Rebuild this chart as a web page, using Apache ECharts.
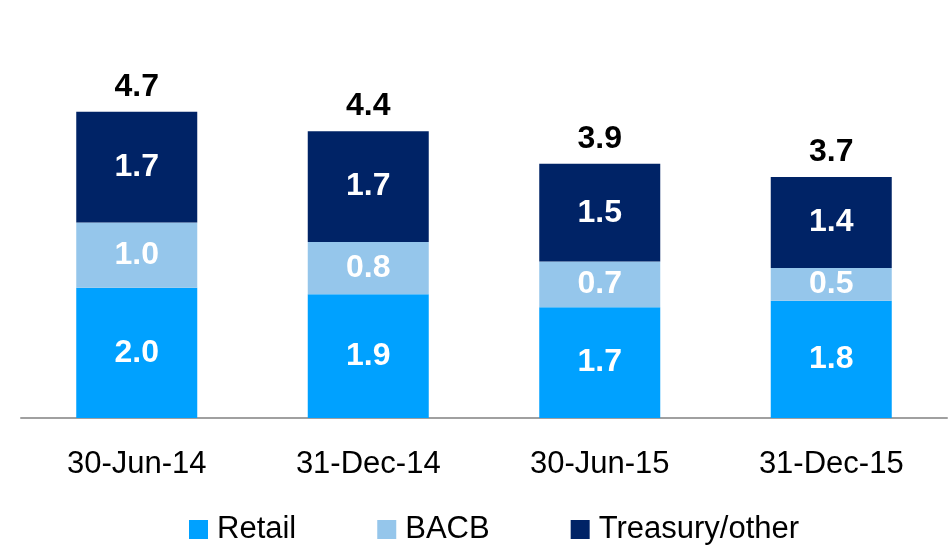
<!DOCTYPE html>
<html>
<head>
<meta charset="utf-8">
<script src="https://cdn.jsdelivr.net/npm/echarts@6/dist/echarts.min.js"></script>
<style>
  html, body { margin: 0; padding: 0; background: #fff; }
  #chart { width: 951px; height: 548px; }
</style>
</head>
<body>
<div id="chart"></div>
<script>
// 数据
let categories = ['30-Jun-14', '31-Dec-14', '30-Jun-15', '31-Dec-15'];
let retail = [2.0, 1.9, 1.7, 1.8];
let bacb = [1.0, 0.8, 0.7, 0.5];
let treasury = [1.7, 1.7, 1.5, 1.4];
let totals = [4.7, 4.4, 3.9, 3.7];

let fontName = '"Liberation Sans Narrow", "Arial Narrow", "Liberation Sans", Arial, sans-serif';

let innerLabel = {
    show: true,
    position: 'inside',
    color: '#fff',
    fontFamily: fontName,
    fontWeight: 'bold',
    fontSize: 32,
    formatter: function (p) { return p.value.toFixed(1); }
};

let option = {
    animation: false,
    color: ['#00A1FF', '#95C6EB', '#002366'],
    grid: {
        left: 21,
        right: 4,
        top: 27,
        bottom: 130
    },
    legend: {
        data: ['Retail', 'BACB', 'Treasury/other'],
        left: 184,
        top: 509,
        itemWidth: 19,
        itemHeight: 19,
        itemGap: 81,
        icon: 'rect',
        textStyle: {
            fontFamily: fontName,
            fontSize: 31,
            color: '#000',
            padding: [0, 0, 0, 4]
        }
    },
    xAxis: [
        {
            type: 'category',
            data: categories,
            axisLine: { lineStyle: { color: '#A0A0A0', width: 2 } },
            axisTick: { show: false },
            axisLabel: {
                color: '#000',
                fontFamily: fontName,
                fontSize: 31,
                margin: 31
            }
        }
    ],
    yAxis: [
        {
            type: 'value',
            min: 0,
            max: 6,
            show: false,
            splitLine: { show: false }
        }
    ],
    series: [
        {
            name: 'Retail',
            type: 'bar',
            stack: 'total',
            barWidth: 121,
            label: innerLabel,
            data: retail
        },
        {
            name: 'BACB',
            type: 'bar',
            stack: 'total',
            barWidth: 121,
            label: innerLabel,
            data: bacb
        },
        {
            name: 'Treasury/other',
            type: 'bar',
            stack: 'total',
            barWidth: 121,
            label: innerLabel,
            data: treasury
        },
        {
            // 合计标签：零高度柱放在堆叠顶部
            name: 'total',
            type: 'bar',
            stack: 'total',
            barWidth: 121,
            itemStyle: { color: 'rgba(0,0,0,0)' },
            label: {
                show: true,
                position: 'top',
                distance: 9,
                color: '#000',
                fontFamily: fontName,
                fontWeight: 'bold',
                fontSize: 32,
                formatter: function (p) { return totals[p.dataIndex].toFixed(1); }
            },
            data: totals.map(function () { return 0; })
        }
    ]
};

let myChart = echarts.init(document.getElementById('chart'));
myChart.setOption(option);
</script>
</body>
</html>
